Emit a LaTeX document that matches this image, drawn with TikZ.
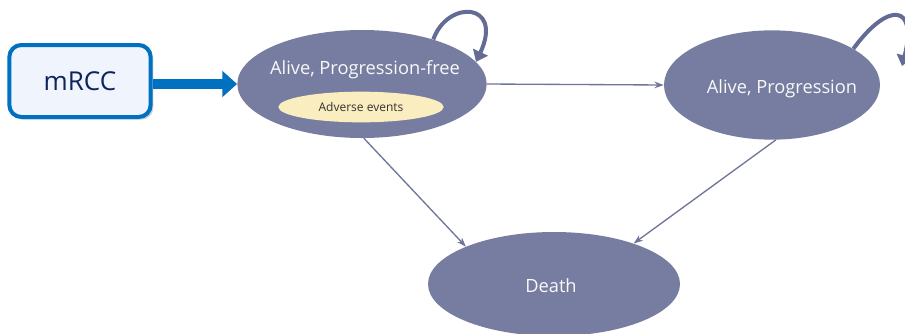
\documentclass[tikz,border=0pt]{standalone}
\usepackage{fontspec}
\setmainfont{Open Sans}
\usepackage{xcolor}
\usepackage{tikz}
\usetikzlibrary{arrows.meta,positioning,shapes.geometric,shadows}

\definecolor{statefill}{RGB}{119,125,160}
\definecolor{loopcol}{RGB}{100,108,150}
\definecolor{linkcol}{RGB}{112,118,155}
\definecolor{aefill}{RGB}{250,237,192}
\definecolor{mblue}{RGB}{0,112,192}
\definecolor{mfill}{RGB}{240,244,252}
\definecolor{mtext}{RGB}{16,36,92}

\begin{document}
\begin{tikzpicture}[
    x=0.75pt, y=-0.75pt,
    state/.style={draw=none, ellipse, fill=statefill, inner sep=0pt},
    txt/.style={anchor=base, text=white!95!gray, font=\fontsize{13.7}{16}\selectfont,
    inner sep=0pt},
    ae/.style={ellipse, fill=aefill, inner sep=0pt, minimum width=124pt,
    minimum height=23pt, text=black!80, font=\fontsize{9}{10}\selectfont},
    start/.style={draw=mblue, line width=3pt, rounded corners=9pt, fill=mfill,
    minimum width=106pt, minimum height=54pt, text=mtext,
    font=\fontsize{19.5}{22}\selectfont,
    drop shadow={shadow xshift=2pt, shadow yshift=-2pt, opacity=0.35}},
    arr/.style={-{Stealth[length=7pt,width=5pt]}, draw=linkcol, line width=1pt},
    selfloop/.style={-{Triangle[width=12pt,length=8pt]}, draw=loopcol, line width=3pt}
]
\clip (0,0) rectangle (905,333);
\fill[white] (0,0) rectangle (905,333);

% states
\node[start] (mrcc) at (80,81) {mRCC};
\node[state, minimum width=187pt, minimum height=81pt] (pf) at (362,84) {};
\node[txt] (pf-t) at (365,74) {Alive, Progression-free};
\node[ae] (ae) at (361,107) {Adverse events};
\node[state, minimum width=162pt, minimum height=82pt] (ap) at (772,85) {};
\node[txt] (ap-t) at (782,93) {Alive, Progression};
\node[state, minimum width=189pt, minimum height=78pt] (death) at (554,284) {};
\node[txt] (death-t) at (551,292) {Death};

% transitions
\draw[-{Triangle[width=19pt,length=11pt]}, draw=mblue, line width=7.5pt]
    (mrcc.east |- pf.west) -- (pf.west);
\draw[arr] (pf.east) -- (ap.west);
\draw[arr] (pf.-88) -- (death.157);
\draw[arr] (ap.-86) -- (death.27);
\draw[selfloop] (pf.32) .. controls +(14,-40) and +(28,-60) .. (pf.11);
\coordinate (ap-loop) at (902,66);
\draw[selfloop] (ap.24) .. controls +(35,-48) and +(16,-62) .. (ap-loop);
\end{tikzpicture}
\end{document}
